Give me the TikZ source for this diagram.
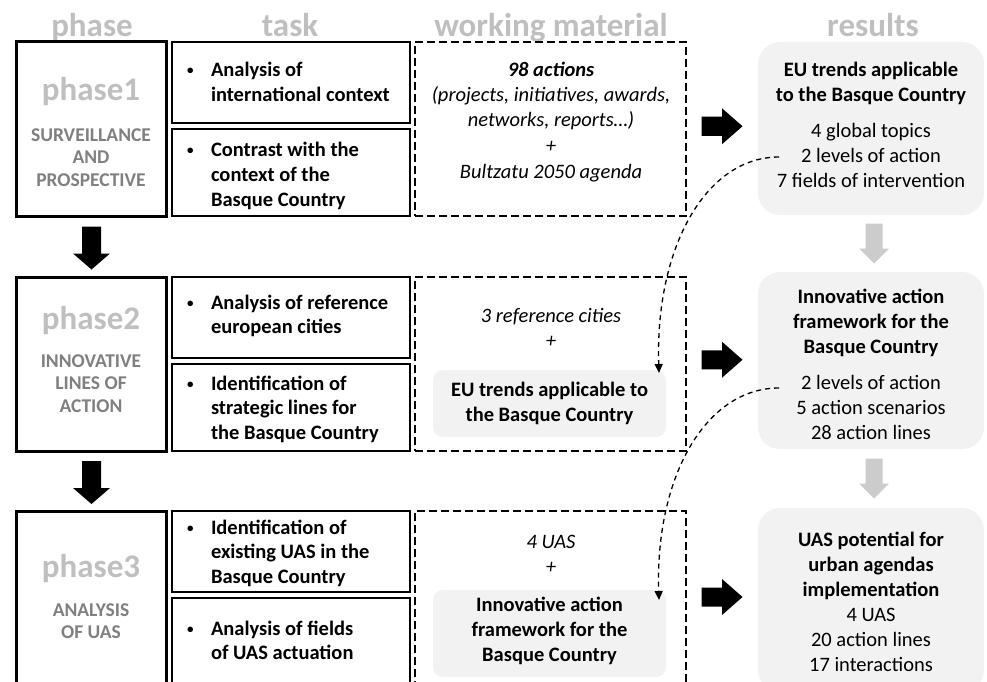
\documentclass[tikz,border=0pt]{standalone}
\usepackage{fontspec}
\setmainfont{Carlito}
\usetikzlibrary{calc,arrows.meta}
\definecolor{hdr}{HTML}{BFBFBF}
\definecolor{subgray}{HTML}{808080}
\definecolor{panel}{HTML}{F2F2F2}
\definecolor{garrow}{HTML}{CCCCCC}
\newcommand{\mlines}[2][c]{\begin{tabular}[t]{@{}#1@{}}#2\end{tabular}}
\newcommand{\bul}{\makebox[25pt][l]{\hspace*{1pt}\raisebox{2pt}{\fontsize{13}{13}\selectfont\textbullet}}}
\tikzset{
 rblk/.pic={\fill[black] (-20.5,-9.5) -- (0,-9.5) -- (0,-18) -- (20.5,0) -- (0,18) -- (0,9.5) -- (-20.5,9.5) -- cycle;},
 dblk/.pic={\fill[black] (-9.5,-21.5) -- (9.5,-21.5) -- (9.5,5.5) -- (18.5,5.5) -- (0,21.5) -- (-18.5,5.5) -- (-9.5,5.5) -- cycle;},
 dgry/.pic={\fill[garrow] (-8.5,-20) -- (8.5,-20) -- (8.5,5) -- (15,5) -- (0,20) -- (-15,5) -- (-8.5,5) -- cycle;},
}
\begin{document}
\begin{tikzpicture}[x=1pt,y=-1pt,
 every node/.style={inner sep=0pt, outer sep=0pt},
 phasebox/.style={draw, line width=3pt, minimum width=150pt},
 taskbox/.style={draw, line width=2pt, minimum width=238pt},
 wmbox/.style={draw, line width=2.2pt, dash pattern=on 8pt off 4pt, minimum width=271pt},
 innerbox/.style={fill=panel, rounded corners=10pt, minimum width=233pt},
 resbox/.style={fill=panel, rounded corners=22pt, minimum width=226pt},
 header/.style={font=\fontsize{33}{36}\selectfont\bfseries, text=hdr, anchor=base},
 phaselbl/.style={font=\fontsize{33}{36}\selectfont\bfseries, text=hdr, anchor=base},
 phasesub/.style={font=\fontsize{19.5}{22.8}\selectfont\bfseries, text=subgray, anchor=base},
 tasktxt/.style={font=\fontsize{20.5}{24.5}\selectfont\bfseries, anchor=base west},
 wmtxt/.style={font=\fontsize{20.5}{25}\selectfont\itshape, anchor=base},
 innertxt/.style={font=\fontsize{20.5}{25}\selectfont\bfseries, anchor=base},
 restxt/.style={font=\fontsize{20.5}{25}\selectfont, anchor=base},
 link/.style={line width=1.3pt, dash pattern=on 5pt off 4pt, -{Triangle[length=9pt,width=8pt]}},
]
\useasboundingbox (0,0) rectangle (987,682);
\fill[white] (0,0) rectangle (987,682);

% headers
\node[header] (hphase) at (92,37) {phase};
\node[header] (htask) at (290,37) {task};
\node[header] (hwm) at (551,37) {working material};
\node[header] (hres) at (873,37) {results};

% phase boxes
\node[phasebox, minimum height=174pt] (p1) at (91,129) {};
\node[phasebox, minimum height=174pt] (p2) at (91,364) {};
\node[phasebox, minimum height=176pt] (p3) at (91,599) {};

% task boxes
\node[taskbox, minimum height=81pt] (t11) at (291,82.5) {};
\node[taskbox, minimum height=87pt] (t12) at (291,172.5) {};
\node[taskbox, minimum height=81pt] (t21) at (291,317.5) {};
\node[taskbox, minimum height=87pt] (t22) at (291,407.5) {};
\node[taskbox, minimum height=81pt] (t31) at (291,551.5) {};
\node[taskbox, minimum height=89pt] (t32) at (291,642.5) {};

% working material boxes
\node[wmbox, minimum height=174pt] (w1) at (550.5,129) {};
\node[wmbox, minimum height=174pt] (w2) at (550.5,364) {};
\node[wmbox, minimum height=176pt] (w3) at (550.5,599) {};
\node[innerbox, minimum height=67pt] (i2) at (549.5,403.5) {};
\node[innerbox, minimum height=87pt] (i3) at (549.5,633.5) {};

% result boxes
\node[resbox, minimum height=173pt] (r1) at (871,128.5) {};
\node[resbox, minimum height=177pt] (r2) at (871,360.5) {};
\node[resbox, minimum height=184pt] (r3) at (871,600) {};

% phase labels
\node[phaselbl] (l1) at (91,101) {phase1};
\node[phasesub] (s1) at (91,141) {\mlines{SURVEILLANCE\\AND\\PROSPECTIVE}};
\node[phaselbl] (l2) at (91,329) {phase2};
\node[phasesub] (s2) at (91,367) {\mlines{INNOVATIVE\\LINES OF\\ACTION}};
\node[phaselbl] (l3) at (91,577) {phase3};
\node[phasesub] (s3) at (91,616) {\mlines{ANALYSIS\\OF UAS}};

% task texts
\node[tasktxt] (x11) at (186,77) {\mlines[l]{\bul Analysis of\\\hspace*{25pt}international context}};
\node[tasktxt] (x12) at (186,157) {\mlines[l]{\bul Contrast with the\\\hspace*{25pt}context of the\\\hspace*{25pt}Basque Country}};
\node[tasktxt] (x21) at (186,309) {\mlines[l]{\bul Analysis of reference\\\hspace*{25pt}european cities}};
\node[tasktxt] (x22) at (186,390) {\mlines[l]{\bul Identification of\\\hspace*{25pt}strategic lines for\\\hspace*{25pt}the Basque Country}};
\node[tasktxt] (x31) at (186,534) {\mlines[l]{\bul Identification of\\\hspace*{25pt}existing UAS in the\\\hspace*{25pt}Basque Country}};
\node[tasktxt] (x32) at (186,635) {\mlines[l]{\bul Analysis of fields\\\hspace*{25pt}of UAS actuation}};

% working material texts
\node[wmtxt] (wt1) at (551,76.5) {\mlines{\textbf{98 actions}\\(projects, initiatives, awards,\\networks, reports…)\\[1pt]+\\[1pt]Bultzatu 2050 agenda}};
\node[wmtxt] (wt2) at (551,322.5) {\mlines{3 reference cities\\+}};
\node[innertxt] (it2) at (549.5,396.5) {\mlines{EU trends applicable to\\the Basque Country}};
\node[wmtxt] (wt3) at (551,548.5) {\mlines{4 UAS\\+}};
\node[innertxt] (it3) at (549.5,611.5) {\mlines{Innovative action\\framework for the\\Basque Country}};

% result texts
\node[restxt] (rt1) at (871,76.5) {\mlines{\textbf{EU trends applicable}\\\textbf{to the Basque Country}}};
\node[restxt] (rl1) at (871,137.5) {\mlines{4 global topics\\2 levels of action\\7 fields of intervention}};
\node[restxt] (rt2) at (871,303.5) {\mlines{\textbf{Innovative action}\\\textbf{framework for the}\\\textbf{Basque Country}}};
\node[restxt] (rl2) at (871,389.5) {\mlines{2 levels of action\\5 action scenarios\\28 action lines}};
\node[restxt] (rt3) at (871,546.5) {\mlines{\textbf{UAS potential for}\\\textbf{urban agendas}\\\textbf{implementation}\\4 UAS\\20 action lines\\17 interactions}};

% block arrows
\coordinate (ra1) at ($(w1.east)!0.5!(r1.west)+(0,-2.5)$);
\coordinate (ra2) at ($(w2.east)!0.5!(r2.west)+(0,-2.5)$);
\coordinate (ra3) at ($(w3.east)!0.5!(r3.west)+(0,-2.5)$);
\pic at (ra1) {rblk};
\pic at (ra2) {rblk};
\pic at (ra3) {rblk};
\coordinate (da1) at ($(p1.south)!0.5!(p2.north)+(0.5,1.5)$);
\coordinate (da2) at ($(p2.south)!0.5!(p3.north)+(0.5,1.5)$);
\pic at (da1) {dblk};
\pic at (da2) {dblk};
\coordinate (ga1) at ($(r1.south)!0.5!(r2.north)+(3,0)$);
\coordinate (ga2) at ($(r2.south)!0.5!(r3.north)+(3,0)$);
\pic at (ga1) {dgry};
\pic at (ga2) {dgry};

% dashed links
\coordinate (c1s) at ($(r1.west)+(21,28.5)$);
\coordinate (c1e) at ($(i2.north east)+(-7,3)$);
\draw[link] (c1s) .. controls ($(c1s)+(-74,0)$) and ($(c1e)+(-4,-124)$) .. (c1e);
\coordinate (c2s) at ($(r2.west)+(21,27.5)$);
\coordinate (c2e) at ($(i3.north east)+(-7,10)$);
\draw[link] (c2s) .. controls ($(c2s)+(-74,0)$) and ($(c2e)+(-4,-122)$) .. (c2e);
\end{tikzpicture}
\end{document}
